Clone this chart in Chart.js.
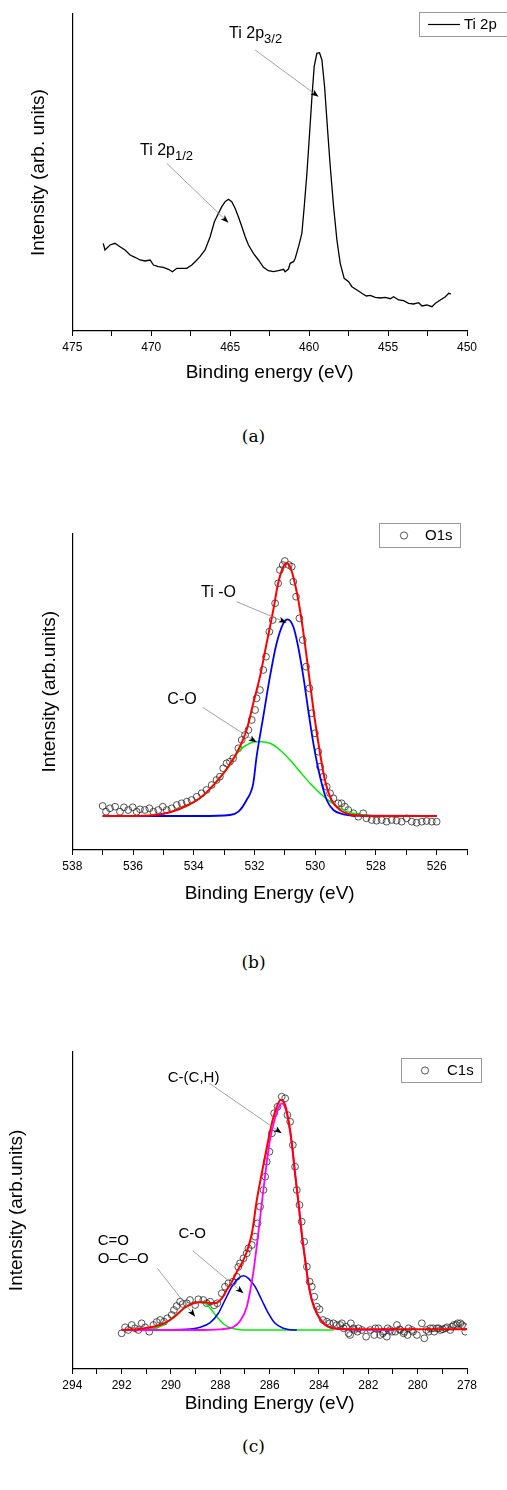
<!DOCTYPE html>
<html>
<head>
<meta charset="utf-8">
<script src="https://cdn.jsdelivr.net/npm/chart.js@4.4.0/dist/chart.umd.min.js"></script>
<style>
  body { margin: 0; background: #fff; width: 507px; height: 1490px; position: relative; overflow: hidden; }
  .panel { position: absolute; left: 0; width: 507px; }
  .cap { position: absolute; left: 0; width: 507px; text-align: center; font: 17px "DejaVu Serif", serif; color: #000; }
</style>
</head>
<body>
<div class="panel" style="top:0;height:395px"><canvas id="chartA"></canvas></div>
<div class="cap" style="top:426px">(a)</div>
<div class="panel" style="top:500px;height:410px"><canvas id="chartB"></canvas></div>
<div class="cap" style="top:952px">(b)</div>
<div class="panel" style="top:1000px;height:420px"><canvas id="chartC"></canvas></div>
<div class="cap" style="top:1436px">(c)</div>
<script>
// (a) Ti 2p spectrum
const tiE = [473.04, 472.93, 472.61, 472.30, 471.98, 471.66, 471.34, 471.03, 470.71, 470.39, 470.07, 469.86, 469.55, 469.23, 468.91, 468.66, 468.38, 468.07, 467.75, 467.43, 467.22, 466.91, 466.59, 466.27, 466.00, 465.74, 465.53, 465.32, 465.11, 464.90, 464.69, 464.48, 464.26, 464.05, 463.84, 463.53, 463.21, 462.89, 462.58, 462.26, 461.94, 461.62, 461.52, 461.31, 461.20, 460.99, 460.88, 460.67, 460.46, 460.31, 460.14, 459.97, 459.82, 459.68, 459.51, 459.34, 459.19, 459.02, 458.83, 458.66, 458.45, 458.24, 458.03, 457.78, 457.50, 457.29, 456.97, 456.66, 456.38, 456.13, 455.81, 455.49, 455.18, 454.86, 454.65, 454.33, 454.02, 453.70, 453.38, 453.06, 452.85, 452.54, 452.22, 452.00, 451.69, 451.37, 451.16, 451.01];
const tiI = [87.7, 81, 86, 87.7, 84.3, 81, 76, 73.7, 71, 70, 71, 66, 64.3, 63.7, 61.7, 59.3, 62.7, 62.7, 62.7, 66, 69.3, 74.3, 81, 94.3, 109.3, 117.7, 124.3, 129.3, 131.7, 129.3, 122.7, 114.3, 104.3, 94.3, 86, 77.7, 71, 63.7, 60.3, 59.3, 60.3, 61.7, 59.3, 62, 67.7, 69.3, 72.7, 84.3, 97.7, 124.3, 157.7, 197.7, 234.3, 264.3, 277.7, 278.3, 271, 244.3, 201, 164.3, 124.3, 91, 67.7, 52.7, 49.3, 44.3, 41, 37.7, 35, 35.7, 33.7, 33, 33.7, 32.3, 34.3, 31, 30.3, 27.7, 27, 28.3, 25, 26, 24.3, 27.7, 31, 34.3, 37.7, 37];

// (b) O1s: measured points and fitted components
const oE = [537.0, 536.89, 536.76, 536.59, 536.43, 536.3, 536.16, 536.01, 535.88, 535.77, 535.61, 535.46, 535.33, 535.17, 535.02, 534.89, 534.73, 534.56, 534.4, 534.23, 534.07, 533.9, 533.74, 533.58, 533.41, 533.25, 533.14, 533.03, 532.92, 532.81, 532.7, 532.53, 532.42, 532.31, 532.2, 532.09, 531.98, 531.93, 531.82, 531.71, 531.62, 531.51, 531.4, 531.32, 531.22, 531.16, 531.07, 531.0, 530.87, 530.77, 530.72, 530.63, 530.52, 530.41, 530.3, 530.19, 530.12, 530.01, 529.9, 529.84, 529.73, 529.62, 529.51, 529.4, 529.24, 529.13, 529.02, 528.91, 528.74, 528.58, 528.42, 528.31, 528.14, 527.98, 527.81, 527.65, 527.48, 527.32, 527.15, 526.99, 526.82, 526.66, 526.49, 526.33, 526.16, 526.0];
const oI = [44, 38.3, 41.7, 43.3, 38.3, 42.7, 40, 42.7, 38.3, 40.7, 40, 41.7, 38.3, 40, 43.3, 40, 41.7, 45, 46.7, 48.3, 50, 53.3, 56.7, 60, 65, 70, 73.3, 81.7, 86.7, 88.3, 91.7, 101.7, 110, 115, 120, 130, 140, 151.7, 160, 180, 193.3, 218.3, 230, 246.7, 266.7, 280, 285, 289, 285, 283.3, 268.3, 253.3, 231.7, 210, 183.3, 161.7, 136.7, 116.7, 98.3, 83.3, 73.3, 63.3, 56.7, 51.7, 46.7, 46.7, 43.3, 40, 36.7, 33.3, 36.7, 31.7, 30, 29.3, 30, 28.3, 30, 29.3, 28.3, 31.7, 28.3, 27.3, 28.3, 29, 28.3, 28.3];
const oSumE = [537.0, 536.16, 535.28, 534.73, 534.18, 533.74, 533.3, 532.86, 532.48, 532.26, 532.04, 531.82, 531.6, 531.38, 531.22, 531.05, 530.94, 530.83, 530.67, 530.5, 530.34, 530.17, 530.01, 529.84, 529.68, 529.46, 529.18, 528.75, 528.09, 526.0];
const oSumI = [34, 34, 35, 38.3, 45, 53.3, 66.7, 83.3, 103.3, 120, 146.7, 173.3, 206.7, 240, 266.7, 283.3, 286.7, 283.3, 266.7, 240, 206.7, 166.7, 130, 96.7, 70, 50, 40, 35, 34, 34];
const oTiE = [537.0, 533.8, 532.81, 532.53, 532.26, 532.04, 531.93, 531.71, 531.49, 531.27, 531.05, 530.91, 530.72, 530.56, 530.39, 530.23, 530.06, 529.84, 529.62, 529.4, 529.07, 528.52, 526.0];
const oTiI = [34, 34, 35, 38.3, 50, 66.7, 93.3, 133.3, 173.3, 206.7, 226.7, 230.7, 223.3, 203.3, 173.3, 140, 106.7, 73.3, 50, 40, 35.7, 34.3, 34];
const oCoE = [537.0, 536.16, 535.28, 534.73, 534.18, 533.74, 533.3, 532.86, 532.48, 532.26, 531.98, 531.76, 531.49, 531.16, 530.83, 530.5, 530.17, 529.84, 529.51, 529.18, 528.75, 528.09, 527.5];
const oCoI = [34, 34, 35, 38.3, 45, 53.3, 66.7, 83.3, 100, 105, 108.3, 108.3, 106.7, 100, 90, 78.3, 66.7, 56.7, 48.3, 41.7, 36.7, 34.3, 34];

// (c) C1s: measured points and fitted components
const cE = [292.0, 291.86, 291.73, 291.59, 291.46, 291.32, 291.19, 291.05, 290.88, 290.71, 290.58, 290.44, 290.28, 290.15, 289.97, 289.88, 289.77, 289.63, 289.52, 289.36, 289.23, 289.02, 288.89, 288.69, 288.55, 288.41, 288.25, 288.12, 287.94, 287.81, 287.67, 287.49, 287.33, 287.27, 287.2, 287.06, 286.93, 286.86, 286.72, 286.59, 286.49, 286.39, 286.25, 286.18, 286.12, 286.01, 285.91, 285.82, 285.68, 285.51, 285.37, 285.28, 285.17, 285.06, 284.97, 284.9, 284.79, 284.7, 284.6, 284.49, 284.38, 284.29, 284.19, 284.09, 283.98, 283.84, 283.68, 283.57, 283.41, 283.28, 283.14, 283.07, 283.0, 282.9, 282.8, 282.74, 282.71, 282.6, 282.57, 282.44, 282.4, 282.26, 282.09, 281.92, 281.76, 281.72, 281.59, 281.52, 281.41, 281.38, 281.25, 281.22, 281.11, 281.04, 280.91, 280.84, 280.73, 280.71, 280.57, 280.54, 280.41, 280.37, 280.23, 280.19, 280.03, 279.83, 279.73, 279.65, 279.56, 279.49, 279.38, 279.33, 279.22, 279.15, 279.08, 278.98, 278.88, 278.81, 278.68, 278.61, 278.54, 278.44, 278.38, 278.27, 278.2, 278.11, 278.07];
const cI = [35.7, 41.7, 39, 44, 40.7, 39, 45.7, 41.7, 37.3, 44, 47, 49, 47.3, 50.7, 54, 59, 63, 67.3, 65, 65.7, 69, 64, 69.7, 69, 65.7, 67.3, 63.7, 65.7, 75.7, 82.3, 85.7, 87.3, 92.3, 102, 105.7, 110.7, 115.7, 120.7, 124, 132.3, 145.7, 162.3, 179, 192.3, 207.3, 217.3, 235.7, 255.7, 262.3, 272.3, 270.7, 254, 247.3, 224, 202.3, 179, 164, 147.3, 127.3, 102.3, 87.3, 82.3, 72.3, 62.3, 59.7, 49, 47.3, 45.7, 45.7, 44, 44, 45.7, 40.7, 42.3, 35.7, 34, 45.7, 40.7, 39, 37.3, 40.7, 39, 32.3, 39, 34, 40.7, 40.7, 34, 35.7, 37.3, 32.3, 40.7, 39, 37.3, 37.3, 44, 39.7, 39, 35.7, 37.3, 34, 40.7, 39, 37.3, 34, 45.7, 30.7, 39, 37.3, 40.7, 40.7, 37.3, 40.7, 40.7, 39, 39.7, 40.7, 41.7, 39, 42.3, 44, 44, 45.7, 45.7, 44, 42.3, 37.3];
const cSumE = [292.0, 291.39, 290.85, 290.44, 290.04, 289.7, 289.43, 289.16, 288.89, 288.62, 288.35, 288.14, 287.94, 287.74, 287.53, 287.33, 287.13, 286.93, 286.72, 286.52, 286.32, 286.11, 285.91, 285.71, 285.55, 285.37, 285.24, 285.1, 284.97, 284.83, 284.7, 284.56, 284.43, 284.29, 284.09, 283.82, 283.41, 282.46, 278.0];
const cSumI = [39, 39.7, 41.7, 44, 49, 55.7, 61.7, 65, 66.7, 66.7, 65.7, 66.3, 70.7, 79, 87.3, 97.3, 105.7, 117, 135.7, 169, 195.7, 222.3, 245.7, 262.3, 269, 264, 249, 225.7, 195.7, 165.7, 135.7, 109, 85.7, 69, 55.7, 45.7, 40.7, 39.7, 39.7];
const cChE = [292.0, 289.0, 288.0, 287.6, 287.47, 287.2, 286.93, 286.66, 286.45, 286.25, 286.12, 285.98, 285.78, 285.6, 285.5, 285.37, 285.24, 285.1, 284.97, 284.83, 284.7, 284.56, 284.43, 284.29, 284.09, 283.82, 283.41, 282.87, 281.0];
const cChI = [39, 39, 39.7, 41, 42, 48, 62, 97, 138, 180, 206, 230, 251, 263, 265.7, 261, 248, 225, 195, 165.5, 135.5, 109, 85.7, 69, 55.7, 45.7, 40.7, 39.7, 39];
const cCoE = [292.0, 290.71, 289.36, 288.82, 288.41, 288.08, 287.81, 287.53, 287.27, 287.06, 286.86, 286.59, 286.32, 286.05, 285.78, 285.44, 285.04, 284.9];
const cCoI = [39, 39, 39.7, 41.7, 46.3, 55.7, 69, 82.3, 90.7, 93.3, 90.7, 82.3, 69, 55.7, 45.7, 40.7, 39, 39];
const cCooE = [292.0, 290.85, 290.31, 289.9, 289.56, 289.23, 288.89, 288.62, 288.41, 288.14, 287.87, 287.53, 287.06, 283.4];
const cCooI = [39, 39.7, 44, 52.3, 59, 64, 66.7, 65.7, 60.7, 52.3, 45, 40.7, 39, 39];

const FONT = "'Liberation Sans', Arial, sans-serif";
Chart.defaults.font.family = FONT;
Chart.defaults.color = '#000';

function pairs(xs, ys) {
  return xs.map(function (x, i) { return {x: x, y: ys[i]}; });
}

function fitLine(xs, ys, color, width) {
  return {data: pairs(xs, ys), showLine: true, borderColor: color, borderWidth: width,
    pointRadius: 0, cubicInterpolationMode: 'monotone', fill: false};
}

function dots(xs, ys) {
  return {data: pairs(xs, ys), showLine: false, pointStyle: 'circle', pointRadius: 3.4,
    pointBorderWidth: 0.8, pointBorderColor: '#2a2a2a', pointBackgroundColor: 'rgba(0,0,0,0)'};
}

// arrows, labels and the boxed legend, drawn on top of the plot
function notes(spec) {
  return {
    id: 'notes',
    afterDraw: function (chart) {
      const ctx = chart.ctx, sx = chart.scales.x, sy = chart.scales.y;
      ctx.save();
      spec.arrows.forEach(function (a) {
        const x1 = sx.getPixelForValue(a[0]), y1 = sy.getPixelForValue(a[1]);
        const x2 = sx.getPixelForValue(a[2]), y2 = sy.getPixelForValue(a[3]);
        const ang = Math.atan2(y2 - y1, x2 - x1);
        const c = Math.cos(ang), s = Math.sin(ang);
        ctx.strokeStyle = '#8a8a8a';
        ctx.lineWidth = 0.8;
        ctx.beginPath();
        ctx.moveTo(x1, y1);
        ctx.lineTo(x2 - 4 * c, y2 - 4 * s);
        ctx.stroke();
        ctx.fillStyle = '#000';
        ctx.beginPath();
        ctx.moveTo(x2, y2);
        ctx.lineTo(x2 - 8 * c + 3 * s, y2 - 8 * s - 3 * c);
        ctx.lineTo(x2 - 6 * c, y2 - 6 * s);
        ctx.lineTo(x2 - 8 * c - 3 * s, y2 - 8 * s + 3 * c);
        ctx.closePath();
        ctx.fill();
      });
      ctx.fillStyle = '#000';
      ctx.textAlign = 'left';
      ctx.textBaseline = 'alphabetic';
      spec.labels.forEach(function (l) {
        const px = sx.getPixelForValue(l.x), py = sy.getPixelForValue(l.y);
        ctx.font = spec.size + 'px ' + FONT;
        ctx.fillText(l.t, px, py);
        if (l.sub) {
          const w = ctx.measureText(l.t).width;
          ctx.font = (spec.size - 3) + 'px ' + FONT;
          ctx.fillText(l.sub, px + w, py + 5);
        }
      });
      const g = spec.legend;
      ctx.strokeStyle = '#9a9a9a';
      ctx.lineWidth = 1;
      ctx.strokeRect(g.x + 0.5, g.y + 0.5, g.w, g.h);
      const my = g.y + g.h / 2 + 0.5;
      if (g.kind === 'line') {
        ctx.strokeStyle = '#000';
        ctx.lineWidth = 1.2;
        ctx.beginPath();
        ctx.moveTo(g.x + 9, my);
        ctx.lineTo(g.x + 41, my);
        ctx.stroke();
      } else {
        ctx.strokeStyle = '#2a2a2a';
        ctx.lineWidth = 0.8;
        ctx.beginPath();
        ctx.arc(g.x + g.mark, my, 3.6, 0, Math.PI * 2);
        ctx.stroke();
      }
      ctx.font = '15px ' + FONT;
      ctx.textBaseline = 'middle';
      ctx.fillText(g.text, g.x + g.tx, my);
      ctx.restore();
    }
  };
}

function panelOptions(p) {
  return {
    responsive: true,
    maintainAspectRatio: false,
    animation: false,
    layout: {padding: {top: p.top, right: 40, bottom: 0, left: 0}},
    plugins: {legend: {display: false}, tooltip: {enabled: false}},
    scales: {
      x: {
        type: 'linear', reverse: true, min: p.xMin, max: p.xMax,
        ticks: {
          stepSize: p.minor, autoSkip: false, maxRotation: 0, padding: 4,
          font: {size: 12}, color: '#000',
          callback: function (v) { return Math.abs(v % p.major) < 1e-6 ? v : ''; }
        },
        grid: {drawOnChartArea: false, drawTicks: true, tickLength: 5, color: '#000'},
        border: {color: '#000', width: 1.2},
        title: {display: true, text: p.xTitle, color: '#000', font: {size: 19},
          padding: {top: 0, bottom: p.xTitlePad}},
        afterFit: function (s) { s.height = p.xHeight; }
      },
      y: {
        type: 'linear', min: 0, max: p.yMax,
        ticks: {display: false},
        grid: {display: false},
        border: {color: '#000', width: 1.2},
        title: {display: true, text: p.yTitle, color: '#000', font: {size: 19},
          padding: {top: p.yTitlePad, bottom: 0}},
        afterFit: function (s) { s.width = 72.3; }
      }
    }
  };
}

new Chart(document.getElementById('chartA'), {
  type: 'scatter',
  data: {
    datasets: [
      {data: pairs(tiE, tiI), showLine: true, borderColor: '#000', borderWidth: 1.3, pointRadius: 0, tension: 0}
    ]
  },
  options: panelOptions({top: 14, xMin: 450, xMax: 475, minor: 2.5, major: 5, yMax: 317,
    xTitle: 'Binding energy (eV)', yTitle: 'Intensity (arb. units)',
    xHeight: 64, xTitlePad: 10.6, yTitlePad: 27.6}),
  plugins: [notes({
    size: 16,
    arrows: [[463.42, 281, 459.4, 234.3], [469.02, 167.7, 465.11, 108.3]],
    labels: [{t: 'Ti 2p', sub: '3/2', x: 465.07, y: 293}, {t: 'Ti 2p', sub: '1/2', x: 470.71, y: 176}],
    legend: {x: 419, y: 12, w: 100, h: 24, kind: 'line', tx: 45, text: 'Ti 2p'}
  })]
});

new Chart(document.getElementById('chartB'), {
  type: 'scatter',
  data: {
    datasets: [
      fitLine(oSumE, oSumI, '#ff0000', 2),
      fitLine(oTiE, oTiI, '#0000ff', 1.8),
      fitLine(oCoE, oCoI, '#00ee00', 1.5),
      dots(oE, oI)
    ]
  },
  options: panelOptions({top: 33.3, xMin: 525, xMax: 538, minor: 1, major: 2, yMax: 316.7,
    xTitle: 'Binding Energy (eV)', yTitle: 'Intensity (arb.units)',
    xHeight: 60, xTitlePad: 5.3, yTitlePad: 38.6}),
  plugins: [notes({
    size: 16,
    arrows: [[532.59, 248.3, 530.94, 227.3], [533.71, 142.7, 531.93, 107.7]],
    labels: [{t: 'Ti -O', x: 533.76, y: 253.3}, {t: 'C-O', x: 534.87, y: 146}],
    legend: {x: 379, y: 23, w: 81, h: 24, kind: 'circle', mark: 25, tx: 46, text: 'O1s'}
  })]
});

new Chart(document.getElementById('chartC'), {
  type: 'scatter',
  data: {
    datasets: [
      fitLine(cSumE, cSumI, '#ff0000', 2),
      fitLine(cChE, cChI, '#ff00ff', 1.8),
      fitLine(cCoE, cCoI, '#0000ff', 1.6),
      fitLine(cCooE, cCooI, '#00ee00', 1.5),
      dots(cE, cI)
    ]
  },
  options: panelOptions({top: 51.7, xMin: 278, xMax: 294, minor: 1, major: 2, yMax: 317.3,
    xTitle: 'Binding Energy (eV)', yTitle: 'Intensity (arb.units)',
    xHeight: 51, xTitlePad: 4.6, yTitlePad: 5.3}),
  plugins: [notes({
    size: 15,
    arrows: [[288.44, 285.7, 285.51, 235.7], [289.12, 118.3, 287.06, 75.7], [290.55, 100.7, 289.02, 52.3]],
    labels: [{t: 'C-(C,H)', x: 290.13, y: 287.3}, {t: 'C-O', x: 289.7, y: 130.7},
      {t: 'C=O', x: 292.97, y: 124}, {t: 'O\u2013C\u2013O', x: 292.97, y: 105.7}],
    legend: {x: 401, y: 58, w: 80, h: 24, kind: 'circle', mark: 24, tx: 46, text: 'C1s'}
  })]
});
</script>
</body>
</html>
